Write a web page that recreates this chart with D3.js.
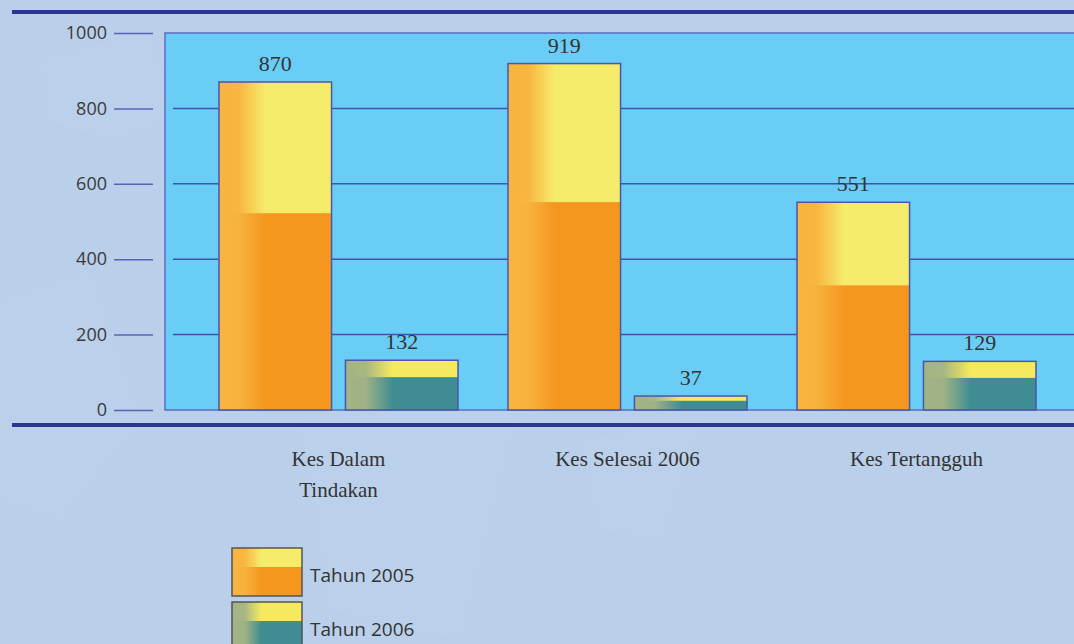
<!DOCTYPE html>
<html>
<head>
<meta charset="utf-8">
<script src="https://cdn.jsdelivr.net/npm/d3@7"></script>
<style>
  body { margin: 0; background: #b9cfea; overflow: hidden; }
</style>
</head>
<body>
<script>
// data
const categories = ['Kes Dalam Tindakan', 'Kes Selesai 2006', 'Kes Tertangguh']
const catLines = [['Kes Dalam', 'Tindakan'], ['Kes Selesai 2006'], ['Kes Tertangguh']]
const years = ['Tahun 2005', 'Tahun 2006']
const values2005 = [870, 919, 551]
const values2006 = [132, 37, 129]
const yTicks = [0, 200, 400, 600, 800, 1000]

const W = 1074, H = 644

let svg = d3.select('body').append('svg')
    .attr('width', W)
    .attr('height', H)

let defs = svg.append('defs')

// left-strip shading for the bars
function stripGrad(id, color) {
    let g = defs.append('linearGradient').attr('id', id)
        .attr('x1', 0).attr('x2', 1).attr('y1', 0).attr('y2', 0)
    g.append('stop').attr('offset', '0%').attr('stop-color', color).attr('stop-opacity', 1)
    g.append('stop').attr('offset', '18%').attr('stop-color', color).attr('stop-opacity', 0.95)
    g.append('stop').attr('offset', '42%').attr('stop-color', color).attr('stop-opacity', 0)
    g.append('stop').attr('offset', '100%').attr('stop-color', color).attr('stop-opacity', 0)
}
stripGrad('strip05', '#f7b43f')
stripGrad('strip06', '#a3b485')

const styles = [
    { top: '#f6ec6c', bottom: '#f5961f', strip: 'url(#strip05)', split: 0.6 },
    { top: '#f5ea5e', bottom: '#3f8d93', strip: 'url(#strip06)', split: 0.66 }
]

// faint background shapes
const bgShapes = [
    [[40, 60], [150, 30], [175, 120], [110, 140], [45, 120]],
    [[0, 300], [90, 270], [140, 420], [60, 520], [0, 500]],
    [[300, 420], [520, 400], [460, 640], [330, 610]],
    [[580, 440], [700, 420], [660, 540], [600, 530]]
]
svg.selectAll('.bg')
    .data(bgShapes)
    .enter().append('polygon')
    .attr('points', d => d.map(p => p.join(',')).join(' '))
    .attr('fill', '#ffffff')
    .attr('opacity', 0.04)

// scales
let yScale = d3.scaleLinear()
    .domain([0, 1000])
    .range([410, 33])

let x0 = d3.scaleBand()
    .domain(categories)
    .range([194, 1061])
    .paddingInner(0.173)
    .paddingOuter(0.0865)

let x1 = d3.scaleBand()
    .domain(years)
    .range([0, x0.bandwidth()])
    .paddingInner(0.11)

// top and bottom rules
svg.append('line')
    .attr('x1', 12).attr('x2', W).attr('y1', 12).attr('y2', 12)
    .attr('stroke', '#2d3592').attr('stroke-width', 4)
svg.append('line')
    .attr('x1', 12).attr('x2', W).attr('y1', 425).attr('y2', 425)
    .attr('stroke', '#2d3592').attr('stroke-width', 4)

// plot panel
svg.append('rect')
    .attr('x', 165).attr('y', yScale(1000))
    .attr('width', W - 165 + 5).attr('height', yScale(0) - yScale(1000))
    .attr('fill', '#69cdf5')
    .attr('stroke', '#5b6ec0').attr('stroke-width', 1.5)

// gridlines
svg.selectAll('.grid')
    .data(yTicks.filter(t => t > 0 && t < 1000))
    .enter().append('line')
    .attr('x1', 173).attr('x2', W)
    .attr('y1', d => yScale(d)).attr('y2', d => yScale(d))
    .attr('stroke', '#3f54b0').attr('stroke-width', 1.5)

// y axis: short ticks outside the panel
let yAxis = d3.axisLeft(yScale)
    .tickValues(yTicks)
    .tickFormat(d3.format('d'))
    .tickSize(39)
    .tickPadding(7)

let gy = svg.append('g')
    .attr('transform', 'translate(153,0)')
    .call(yAxis)
gy.select('.domain').remove()
gy.selectAll('.tick line').attr('stroke', '#5a62b8').attr('stroke-width', 1.5)
gy.selectAll('.tick text')
    .attr('fill', '#3a3a3a')
    .style('font-family', '"Open Sans", "DejaVu Sans", sans-serif')
    .style('font-size', '18px')

// bars
const rows = categories.map((c, i) => [
    { cat: c, year: years[0], value: values2005[i], s: styles[0] },
    { cat: c, year: years[1], value: values2006[i], s: styles[1] }
])

let groups = svg.selectAll('.group')
    .data(rows)
    .enter().append('g')
    .attr('transform', d => 'translate(' + x0(d[0].cat) + ',0)')

let bars = groups.selectAll('.bar')
    .data(d => d)
    .enter().append('g')
    .attr('class', 'bar')

bars.append('rect')
    .attr('x', d => x1(d.year))
    .attr('y', d => yScale(d.value))
    .attr('width', x1.bandwidth())
    .attr('height', d => yScale(0) - yScale(d.value))
    .attr('fill', d => d.s.top)

bars.append('rect')
    .attr('x', d => x1(d.year))
    .attr('y', d => yScale(d.value * d.s.split))
    .attr('width', x1.bandwidth())
    .attr('height', d => yScale(0) - yScale(d.value * d.s.split))
    .attr('fill', d => d.s.bottom)

bars.append('rect')
    .attr('x', d => x1(d.year))
    .attr('y', d => yScale(d.value))
    .attr('width', x1.bandwidth())
    .attr('height', d => yScale(0) - yScale(d.value))
    .attr('fill', d => d.s.strip)
    .attr('stroke', '#4a55b0')
    .attr('stroke-width', 1.5)

bars.append('text')
    .attr('x', d => x1(d.year) + x1.bandwidth() / 2)
    .attr('y', d => yScale(d.value) - 11)
    .attr('text-anchor', 'middle')
    .attr('fill', '#333')
    .style('font-family', '"Liberation Serif", "DejaVu Serif", serif')
    .style('font-size', '22px')
    .text(d => d.value)

// category labels
let catText = svg.selectAll('.cat')
    .data(categories)
    .enter().append('text')
    .attr('x', d => x0(d) + x0.bandwidth() / 2)
    .attr('y', 466)
    .attr('text-anchor', 'middle')
    .attr('fill', '#333')
    .style('font-family', '"Liberation Serif", "DejaVu Serif", serif')
    .style('font-size', '21px')

catText.selectAll('tspan')
    .data((d, i) => catLines[i])
    .enter().append('tspan')
    .attr('x', function() { return d3.select(this.parentNode).attr('x') })
    .attr('dy', (d, i) => i === 0 ? 0 : 31)
    .text(d => d)

// legend
let legend = svg.selectAll('.legend')
    .data(years)
    .enter().append('g')
    .attr('transform', (d, i) => 'translate(232,' + (548 + i * 54) + ')')

legend.append('rect')
    .attr('width', 70).attr('height', 48)
    .attr('fill', (d, i) => styles[i].top)
legend.append('rect')
    .attr('y', 19)
    .attr('width', 70).attr('height', 29)
    .attr('fill', (d, i) => styles[i].bottom)
legend.append('rect')
    .attr('width', 70).attr('height', 48)
    .attr('fill', (d, i) => styles[i].strip)
    .attr('stroke', '#555')
    .attr('stroke-width', 1.5)

legend.append('text')
    .attr('x', 78)
    .attr('y', 34)
    .attr('fill', '#333')
    .style('font-family', '"Open Sans", "DejaVu Sans", sans-serif')
    .style('font-size', '19px')
    .text(d => d)
</script>
</body>
</html>
